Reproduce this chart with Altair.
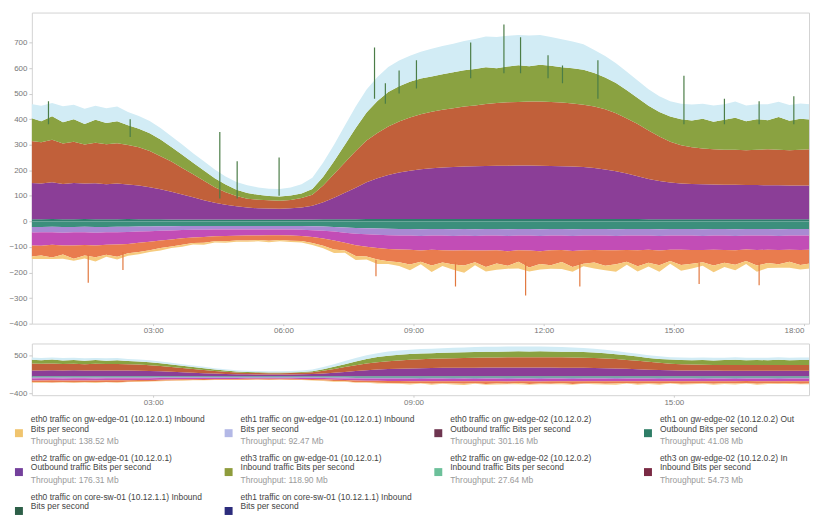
import altair as alt
import pandas as pd

alt.data_transformers.disable_max_rows()

# ---------------- data ----------------
# 15-minute samples, 2024-03-12 00:10 .. 18:10
times = pd.date_range("2024-03-12 00:10", periods=73, freq="15min").strftime("%Y-%m-%dT%H:%M:%S").tolist()

pos_teal = [8, 8, 9, 8, 8, 9, 8, 8, 8, 9,
            8, 8, 8, 7, 7, 7, 7, 7, 7, 7,
            7, 7, 7, 7, 7, 7, 7,
            8, 8, 8, 8, 9, 9, 9,
            9, 9, 9, 9, 9, 9,
            9, 9, 9, 9, 9, 9, 9, 9, 9, 9, 9, 9,
            9, 9, 9, 9, 9, 8, 8, 8,
            8, 8, 8, 8, 8, 8, 8, 8, 8, 8, 8, 8, 8]
purple = [142, 140, 144, 138, 142, 139, 141, 137, 140, 135,
          132, 126, 118, 109, 98, 87, 76, 66, 58, 52,
          47, 44, 43, 42, 44, 47, 54,
          67, 84, 104, 124, 144, 160, 172,
          182, 189, 195, 199, 202, 204,
          206, 207, 208, 209, 209, 210, 210, 209, 208, 207, 206, 204,
          200, 194, 187, 178, 168, 158, 150, 144,
          140, 138, 137, 136, 135, 135, 134, 134, 133, 133, 132, 132, 132]
orange = [165, 162, 166, 159, 162, 153, 159, 157, 158, 155,
          150, 141, 129, 118, 104, 90, 76, 61, 49, 40,
          35, 34, 33, 32, 33, 37, 43,
          65, 93, 118, 143, 163, 177, 190,
          200, 208, 215, 221, 226, 230,
          234, 237, 242, 245, 248, 248, 250, 251, 250, 249, 246, 243,
          240, 236, 227, 216, 204, 190, 174, 160,
          150, 144, 140, 138, 137, 137, 136, 138, 141, 139, 138, 140, 142]
green = [90, 82, 92, 83, 88, 80, 90, 83, 86, 77,
         72, 70, 65, 57, 52, 45, 40, 35, 30, 25,
         22, 19, 16, 16, 17, 18, 23,
         35, 50, 70, 90, 110, 125, 135,
         138, 140, 140, 138, 139, 140,
         142, 143, 144, 136, 140, 144, 138, 144, 142, 138, 138, 137,
         132, 124, 118, 110, 102, 96, 96, 98,
         102, 105, 117, 108, 118, 125, 114, 120, 114, 128, 116, 122, 116]
light_blue = [55, 60, 52, 62, 56, 60, 54, 58, 57, 52,
              50, 48, 45, 42, 40, 38, 36, 34, 32, 30,
              30, 29, 29, 30, 32, 36, 44,
              55, 65, 75, 84, 90, 94, 98,
              100, 102, 105, 108, 110, 112,
              115, 118, 120, 122, 120, 118, 120, 116, 112, 110, 105, 100,
              90, 84, 78, 72, 68, 65, 62, 60,
              60, 62, 58, 63, 60, 64, 61, 58, 62, 60, 61, 59, 60]
neg_teal = [-22, -22, -21, -22, -22, -21, -22, -22, -21, -21,
            -20, -20, -19, -19, -18, -18, -18, -18, -18, -18,
            -18, -18, -18, -18, -18, -18, -19,
            -20, -22, -24, -26, -27, -28, -29,
            -30, -30, -31, -30, -30, -31,
            -30, -31, -30, -30, -31, -30, -30, -31, -30, -30, -31, -30,
            -30, -30, -31, -30, -30, -30, -31, -30,
            -30, -30, -31, -30, -30, -31, -30, -30, -30, -31, -30, -30, -30]
neg_lavender = [-22, -21, -22, -22, -21, -22, -22, -21, -22, -21,
                -20, -19, -18, -17, -16, -15, -15, -14, -14, -14,
                -14, -14, -14, -14, -14, -15, -16,
                -17, -18, -20, -22, -23, -24, -25,
                -25, -25, -26, -25, -25, -26,
                -25, -26, -25, -25, -26, -25, -25, -26, -25, -25, -26, -25,
                -25, -25, -26, -25, -25, -25, -26, -25,
                -25, -25, -26, -25, -25, -26, -25, -25, -25, -26, -25, -25, -25]
neg_magenta = [-50, -52, -48, -50, -51, -49, -50, -48, -47, -46,
               -44, -41, -38, -35, -32, -30, -28, -26, -25, -24,
               -23, -23, -22, -22, -23, -24, -26,
               -30, -35, -40, -45, -49, -52, -54,
               -55, -56, -57, -56, -58, -57,
               -58, -57, -59, -58, -60, -58, -59, -60, -58, -57, -59, -58,
               -57, -58, -56, -57, -58, -56, -57, -56,
               -56, -57, -55, -56, -57, -56, -55, -57, -56, -55, -56, -57, -56]
neg_salmon = [-44, -38, -50, -36, -52, -41, -46, -40, -48, -37,
              -36, -33, -29, -27, -25, -22, -23, -20, -21, -19,
              -20, -18, -22, -19, -21, -20, -24,
              -28, -35, -30, -42, -38, -45, -48,
              -50, -58, -44, -62, -48, -55,
              -60, -46, -64, -52, -57, -45, -66, -50, -59, -47, -62, -53,
              -49, -61, -55, -46, -63, -51, -58, -44,
              -60, -54, -48, -62, -50, -57, -45, -61, -52, -56, -47, -59, -53]
neg_yellow = [-9, -14, -6, -16, -8, -12, -17, -7, -11, -9,
              -9, -7, -10, -6, -8, -5, -7, -5, -6, -5,
              -5, -5, -6, -5, -5, -6, -7,
              -10, -14, -9, -16, -12, -18, -11,
              -15, -22, -10, -25, -14, -20,
              -28, -12, -18, -24, -11, -26, -16, -21, -13, -27, -19, -10,
              -23, -17, -29, -12, -20, -15, -25, -11,
              -22, -18, -14, -26, -16, -21, -12, -24, -19, -13, -23, -17, -20]

series_names = ["gw1 eth0 out", "gw1 eth2 out", "gw2 eth0 out", "gw2 eth2 out", "core eth0 out",
                "gw1 eth0 in", "gw1 eth1 in", "gw2 eth1 in", "gw2 eth3 in", "core eth1 in"]
series_values = [pos_teal, purple, orange, green, light_blue,
                 neg_teal, neg_lavender, neg_magenta, neg_salmon, neg_yellow]
series_order = [0, 1, 2, 3, 4, 0, 1, 2, 3, 4]
series_colors = ["#2f7f6e", "#8b3e97", "#c1603a", "#8aa241", "#d2ecf5",
                 "#3c8f7c", "#a98ad3", "#c24db6", "#e97c4e", "#f6cb7e"]

# spikes (time, top value, base value)
up_spike_times = ["00:35", "02:28", "04:32", "04:56", "05:54", "08:06", "08:21", "08:40", "09:04", "10:19",
                  "11:05", "11:28", "12:06", "12:26", "13:15", "15:14", "16:10", "16:58", "17:46"]
up_spike_top = [470, 400, 350, 235, 250, 680, 540, 590, 630, 700,
                770, 720, 650, 610, 630, 570, 480, 470, 490]
up_spike_base = [380, 330, 90, 90, 100, 480, 460, 500, 520, 560,
                 580, 580, 560, 540, 480, 380, 380, 380, 380]
down_spike_times = ["01:30", "02:18", "08:08", "09:58", "11:35", "12:50", "15:35", "16:58"]
down_spike_bottom = [-240, -190, -215, -255, -290, -255, -245, -250]
down_spike_base = [-130, -120, -150, -160, -160, -160, -160, -160]

main_yticks = [700, 600, 500, 400, 300, 200, 100, 0, -100, -200, -300, -400]
main_xtick_hours = [3, 6, 9, 12, 15, 18]
nav_yticks = [500, -400]
nav_xtick_hours = [3, 9, 15]

legend_line1 = ["eth0 traffic on gw-edge-01 (10.12.0.1) Inbound",
                "eth1 traffic on gw-edge-01 (10.12.0.1) Inbound",
                "eth0 traffic on gw-edge-02 (10.12.0.2)",
                "eth1 on gw-edge-02 (10.12.0.2) Out",
                "eth2 traffic on gw-edge-01 (10.12.0.1)",
                "eth3 traffic on gw-edge-01 (10.12.0.1)",
                "eth2 traffic on gw-edge-02 (10.12.0.2)",
                "eth3 on gw-edge-02 (10.12.0.2) In",
                "eth0 traffic on core-sw-01 (10.12.1.1) Inbound",
                "eth1 traffic on core-sw-01 (10.12.1.1) Inbound"]
legend_line2 = ["Bits per second", "Bits per second",
                "Outbound traffic Bits per second", "Outbound Bits per second",
                "Outbound traffic Bits per second", "Inbound traffic Bits per second",
                "Inbound traffic Bits per second", "Inbound Bits per second",
                "Bits per second", "Bits per second"]
legend_line3 = ["Throughput: 138.52 Mb", "Throughput: 92.47 Mb", "Throughput: 301.16 Mb", "Throughput: 41.08 Mb",
                "Throughput: 176.31 Mb", "Throughput: 118.90 Mb", "Throughput: 27.64 Mb", "Throughput: 54.73 Mb",
                "", ""]
legend_colors = ["#f0c46e", "#b3b8e6", "#6e3550", "#2e7d66", "#74409c",
                 "#8e9c3c", "#6cc09a", "#7a2a44", "#2d5f48", "#2c2c7c"]

# ---------------- tables ----------------
for v in series_values:
    assert len(v) == len(times)

rows = []
for name, vals, od in zip(series_names, series_values, series_order):
    for t, v in zip(times, vals):
        rows.append({"time": t, "series": name, "value": v, "ord": od})
df = pd.DataFrame(rows)

day = "2024-03-12T"
up_df = pd.DataFrame({"time": [day + s + ":00" for s in up_spike_times],
                      "top": up_spike_top, "base": up_spike_base})
down_df = pd.DataFrame({"time": [day + s + ":00" for s in down_spike_times],
                        "top": down_spike_bottom, "base": down_spike_base})

def dt(h, m=0):
    return alt.DateTime(year=2024, month=3, date=12, hours=h, minutes=m)

x_domain = [dt(0, 12), dt(18, 7)]
color_scale = alt.Scale(domain=series_names, range=series_colors)

# ---------------- main chart ----------------
x_main = alt.X("time:T", title=None, scale=alt.Scale(domain=x_domain),
               axis=alt.Axis(values=[dt(h) for h in main_xtick_hours], format="%H:%M", tickCount=20,
                             tickSize=2, labelPadding=1, labelFlush=8, domain=False))
areas = alt.Chart(df).mark_area(clip=True, interpolate="linear").encode(
    x=x_main,
    y=alt.Y("value:Q", title=None, stack="zero",
            scale=alt.Scale(domain=[-400, 817], nice=False, zero=False),
            axis=alt.Axis(values=main_yticks, tickCount=30, tickSize=3, labelPadding=2, domain=False,
                          labelOverlap=False)),
    color=alt.Color("series:N", scale=color_scale, legend=None),
    order=alt.Order("ord:Q", sort="ascending"),
)
ups = alt.Chart(up_df).mark_rule(clip=True, color="#4b7d47", strokeWidth=1.2).encode(
    x=alt.X("time:T", title=None), y=alt.Y("top:Q", title=None), y2="base:Q")
downs = alt.Chart(down_df).mark_rule(clip=True, color="#e2783f", strokeWidth=1.2).encode(
    x=alt.X("time:T", title=None), y=alt.Y("top:Q", title=None), y2="base:Q")
main = alt.layer(areas, ups, downs).properties(width=782, height=313)

# ---------------- navigator ----------------
nav = alt.Chart(df).mark_area(clip=True, interpolate="linear").encode(
    x=alt.X("time:T", title=None, scale=alt.Scale(domain=x_domain),
            axis=alt.Axis(values=[dt(h) for h in nav_xtick_hours], format="%H:%M", tickCount=20,
                          tickSize=2, labelPadding=1, domain=False)),
    y=alt.Y("value:Q", title=None, stack="zero",
            scale=alt.Scale(domain=[-450, 800], nice=False, zero=False),
            axis=alt.Axis(values=nav_yticks, tickCount=10, tickSize=3, labelPadding=2, domain=False,
                          labelOverlap=False)),
    color=alt.Color("series:N", scale=color_scale, legend=None),
    order=alt.Order("ord:Q", sort="ascending"),
).properties(width=782, height=52)

# ---------------- custom legend ----------------
line_off = [0.0, 1.05, 2.4]
txt_rows, sw_rows = [], []
for i in range(len(legend_line1)):
    r, c = divmod(i, 4)
    base = r * 4.2
    for k, (txt, col) in enumerate([(legend_line1[i], "#444444"), (legend_line2[i], "#444444"),
                                    (legend_line3[i], "#9a9a9a")]):
        if txt:
            txt_rows.append({"cx": c, "cy": base + line_off[k], "txt": txt, "tcol": col})
    sw_rows.append({"cx": c, "cy": base + 1.55, "scol": legend_colors[i]})
txt_df = pd.DataFrame(txt_rows)
sw_df = pd.DataFrame(sw_rows)

lx = alt.X("cx:Q", scale=alt.Scale(domain=[0.0616, 3.768], nice=False, zero=False), axis=None)
ly = alt.Y("cy:Q", scale=alt.Scale(domain=[-0.3, 10.0], nice=False, zero=False, reverse=True), axis=None)
leg_text = alt.Chart(txt_df).mark_text(align="left", baseline="middle", dx=12, fontSize=8.5,
                                       font="Liberation Sans").encode(
    x=lx, y=ly, text="txt:N", color=alt.Color("tcol:N", scale=None))
leg_sw = alt.Chart(sw_df).mark_square(size=64, opacity=1).encode(
    x=lx, y=ly, color=alt.Color("scol:N", scale=None))
legend = alt.layer(leg_sw, leg_text).properties(
    width=782, height=96, view=alt.ViewBackground(stroke="transparent"))

chart = alt.vconcat(main, nav, legend, spacing=7).properties(
    padding={"left": 0, "top": 2, "right": 0, "bottom": 0}
).configure_view(stroke="#d3d3d3").configure_axis(
    labelFont="Liberation Sans", labelFontSize=8, labelColor="#777777",
    tickColor="#cccccc", grid=False
)

chart.save("out.html", embed_options={"renderer": "svg", "actions": False})
